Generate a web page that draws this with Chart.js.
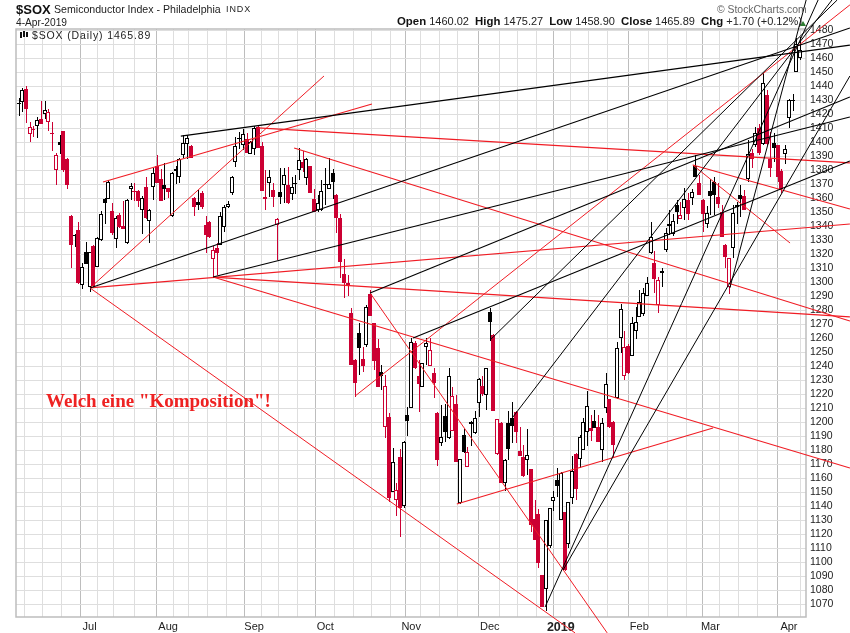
<!DOCTYPE html>
<html>
<head>
<meta charset="utf-8">
<title>$SOX</title>
<script src="https://cdn.jsdelivr.net/npm/chart.js@4/dist/chart.umd.min.js"></script>
<style>
  html, body { margin: 0; background: #fff; }
  #wrap { position: relative; width: 850px; height: 633px; overflow: hidden; font-family: "Liberation Sans", sans-serif; color: #222; }
  #wrap div { position: absolute; white-space: nowrap; line-height: 1; }
  canvas { position: absolute; left: 0; top: 0; }
  b { color: #111; }
</style>
</head>
<body>
<div id="wrap">
  <canvas id="sox" width="850" height="633"></canvas>
  <div style="left:16px;top:3px;font-size:13px;font-weight:bold;color:#111">$SOX</div>
  <div style="left:54px;top:4px;font-size:10.6px">Semiconductor Index - Philadelphia</div>
  <div style="left:226px;top:5px;font-size:9px;letter-spacing:.9px">INDX</div>
  <div style="left:16px;top:18px;font-size:10.2px">4-Apr-2019</div>
  <div style="left:397px;top:16px;font-size:11px"><b style="font-size:11.4px">Open</b> 1460.02&nbsp; <b style="font-size:11.4px">High</b> 1475.27&nbsp; <b style="font-size:11.4px">Low</b> 1458.90&nbsp; <b style="font-size:11.4px">Close</b> 1465.89&nbsp; <b style="font-size:11.4px">Chg</b> +1.70 (+0.12%)</div>
  <div style="left:800px;top:21px;width:0;height:0;border-left:3px solid transparent;border-right:3px solid transparent;border-bottom:5px solid #2e7d32"></div>
  <div style="left:717px;top:5px;font-size:10.4px;color:#666">&copy; StockCharts.com</div>
  <div style="left:20px;top:32px;width:2px;height:6px;background:#111"></div>
  <div style="left:23px;top:31px;width:2px;height:6px;background:#111"></div>
  <div style="left:26px;top:32px;width:2px;height:5px;background:#111"></div>
  <div style="left:32px;top:30px;font-size:10.5px;letter-spacing:.85px">$SOX (Daily) 1465.89</div>
  <div style="left:46px;top:391px;font-family:'Liberation Serif',serif;font-weight:bold;font-size:19px;color:#ee2222">Welch eine "Komposition"!</div>
</div>
<script>
// daily candles, 5 Jun 2018 - 4 Apr 2019
const opens = [
  1428,1429,1438,1406.4,1409.5,1412,1416.8,1420,1414.5,1407,
  1380.7,1400,1408,1388.3,1347.7,1334,1337.5,1298,1321.5,1297,
  1326,1311.3,1330,1359.7,1359.5,1351,1330.8,1348,1340.3,1328,
  1367,1365.5,1365,1351.8,1368,1344,1368,1383.5,1374,1369.5,
  1367.3,1347.7,1379.5,1375.7,1391,1398.7,1397.6,1360,1357.8,1364,
  1341,1343.4,1316.5,1324.4,1326.8,1339.9,1354,1363.8,1385.9,1403.5,
  1398.3,1402.3,1391.6,1395.2,1410.9,1397.6,1360.9,1370.9,1366,1341,
  1364.9,1369.5,1369.7,1363,1371,1380.4,1386.3,1374.4,1383,1359.6,
  1351.8,1351.8,1369.6,1366.8,1378,1362.5,1345.8,1306,1299.4,1278,
  1244.7,1263.7,1245,1255,1291.8,1270.9,1253,1235.9,1197,1203.7,
  1150,1144.7,1175,1140,1205.4,1210.2,1256.6,1233.5,1225.6,1254.2,
  1240.4,1235.2,1207,1185.7,1204.7,1188.8,1194.2,1213,1142.5,1191.1,
  1168,1198.7,1192.3,1213.7,1226,1219.7,1278.7,1262.5,1177.3,1199.5,
  1156.8,1199.5,1203,1207.8,1179.4,1175,1173,1166.8,1131,1134.9,
  1090.8,1081.3,1111.5,1143.7,1159,1130.6,1135.8,1113.4,1146,1177.5,
  1174,1180.4,1193.5,1195.9,1201.4,1196.5,1180,1210,1216.6,1200,
  1217.3,1260,1233.5,1254.9,1247.8,1265.6,1275.1,1277.3,1290.6,1320.9,
  1313.7,1284,1306.8,1323.3,1341.8,1334.3,1355.4,1345.2,1353,1359,
  1360.6,1383.2,1371.3,1359,1341.8,1365.6,1372,1361.3,1350.6,1327,
  1296.5,1324.7,1355,1362.5,1361.8,1373.7,1392.8,1398.3,1410,1399,
  1434,1388.3,1399.5,1398.3,1379.7,1391.6,1417.3,1430,1450.6,1460.02
];
const highs = [
  1431.6,1438.7,1440.4,1414.5,1412,1418,1429.7,1429.7,1424,1414.5,
  1392.8,1405.4,1408.5,1388.8,1348,1334.5,1343,1313.7,1328.7,1321.5,
  1326.5,1332.5,1351.3,1360,1373,1357,1347.5,1349.4,1358,1359.5,
  1371,1371.4,1366,1362,1375.7,1352.3,1381.6,1391,1381,1385,
  1367.5,1379,1383,1389,1405,1405.4,1398,1361,1366,1365,
  1347.5,1344,1326.3,1328.4,1350.6,1355,1358,1376,1404,1407.8,
  1409.7,1406.6,1401,1411.5,1411.5,1400.6,1380.4,1380.4,1371,1345.8,
  1381.6,1382,1382.8,1375,1376.8,1395.9,1394,1389,1383.5,1367,
  1362.5,1373,1381.5,1388.7,1381,1363,1349,1316.6,1305,1281.6,
  1245,1270.9,1254,1284,1294.7,1271,1259.4,1241,1234,1206.6,
  1181.5,1157,1180.8,1187,1211.4,1260,1258,1244.7,1242.5,1260,
  1260,1238.7,1207.5,1212.6,1213,1238.7,1225,1219.7,1174,1195.2,
  1182.8,1200.8,1208,1231.5,1233.3,1239,1281.6,1263,1202.5,1200,
  1174,1208.5,1214.9,1208,1197,1184,1195.6,1167,1144.8,1138,
  1091,1130.5,1139,1150.8,1167.5,1164.5,1136,1143,1175.8,1178,
  1191,1203,1222.5,1205.4,1209,1205,1203,1235,1217,1201,
  1257.7,1284.6,1265,1256,1275.6,1282.7,1294.6,1295.8,1304,1343.5,
  1322.5,1304,1310.6,1338.7,1351.8,1349,1359,1357.8,1367.8,1363.7,
  1366.6,1391,1376.8,1359.5,1354.7,1373.7,1375.6,1370.9,1355.4,1327.5,
  1317.8,1355.4,1357.4,1369.7,1366,1401.8,1395,1411.4,1413,1449.9,
  1437.6,1407.8,1406.6,1398.5,1381,1398,1431,1434.4,1474.4,1475.27
];
const lows = [
  1419,1422,1414,1400,1404,1403.5,1413,1417,1408.5,1394,
  1369.7,1391.8,1379,1367,1310.6,1325.6,1299,1295,1313,1293,
  1297,1311,1329.5,1341.5,1359.3,1334,1324.4,1339,1338,1327.5,
  1359,1358,1354,1334.4,1345,1328,1359,1371,1358,1359,
  1360,1347,1370,1370.9,1388.7,1388,1388.7,1347.7,1352,1352.5,
  1320.8,1332,1304,1305.4,1326.5,1336.3,1353.5,1362.5,1382.8,1395.4,
  1394.7,1392.8,1391.5,1391,1396,1365.7,1352,1361.4,1354,1316,
  1356,1356.6,1356,1359,1363,1373,1379,1369.6,1363.7,1350.6,
  1350.5,1351,1355.4,1366.5,1359.4,1335,1303,1289,1290.6,1241,
  1218.5,1234,1236.3,1254,1276,1237.5,1225,1223.3,1188.8,1143.5,
  1150,1133,1118.5,1139,1190.7,1210,1238,1207.8,1225.4,1241,
  1240,1217.3,1169.2,1183.5,1185.9,1188.5,1194,1171.5,1142,1178.5,
  1168,1183.5,1192,1204,1219,1209,1258.2,1208,1177,1156.5,
  1150.8,1173.3,1185,1185,1176,1161.4,1162.7,1121.5,1116,1096,
  1068,1065.4,1110,1137,1146.8,1130.5,1093.7,1110,1141.8,1144.9,
  1167.5,1180,1183.5,1187,1196,1186,1172,1206.6,1196,1174.5,
  1217,1249.4,1230,1234.4,1247.5,1259.4,1275,1275.8,1290,1320.5,
  1292.3,1278.5,1296.5,1322,1334,1333.2,1342,1345,1344.7,1344.7,
  1355.4,1375,1362.5,1336.4,1338.7,1348,1348,1353,1332.8,1310,
  1291.8,1317.2,1342,1347,1351.8,1372,1381.6,1397,1391,1398,
  1398,1375,1386.4,1372,1364,1384.7,1410,1422.5,1450,1458.9
];
const closes = [
  1427.5,1437.5,1423.7,1411.4,1409,1416,1413.3,1423,1421.6,1406,
  1391,1398,1380,1369.7,1326.8,1333,1299.4,1311,1313.3,1321.5,
  1297.3,1332,1348.7,1357,1371.6,1335,1345.8,1339.4,1338,1359,
  1369,1365,1358.3,1360.7,1345.8,1352,1378.3,1371.4,1358,1367,
  1364.5,1378.3,1380.9,1388.5,1399.5,1403.3,1388.9,1354.2,1355.4,1353.8,
  1334,1332.2,1323.2,1321.3,1347.7,1353.7,1356,1375.4,1397.6,1403,
  1405.9,1392.8,1400.6,1410,1396,1365.7,1359.7,1375.2,1361.4,1345,
  1361.4,1376.8,1357,1368,1370.5,1387.3,1382,1388,1363.7,1350.6,
  1357,1365.6,1370.5,1370,1371.5,1346.3,1314.9,1299.4,1297.8,1241,
  1228.5,1253,1240.6,1282.3,1276,1244.2,1225,1233.5,1226.4,1145.8,
  1172,1152,1139,1186.3,1201.1,1257.3,1238.7,1227.5,1242.3,1256.6,
  1251.8,1228.5,1173.3,1189.5,1193.5,1233.5,1219.2,1172,1173.8,1178.8,
  1178.8,1200.6,1203,1230.9,1220.2,1238.7,1272,1208.3,1202.3,1156.8,
  1173.4,1180.9,1197.8,1193.5,1176.3,1161.5,1176.5,1127,1116.3,1099.6,
  1068.2,1130,1138.7,1146.5,1154.4,1163.9,1094.9,1143,1165,1152.5,
  1189.6,1200.6,1212,1194,1196.4,1186.3,1199.9,1227.3,1197,1184,
  1253,1280.8,1253.7,1235.6,1270.8,1271.6,1286.3,1292.7,1299.4,1332.8,
  1302.5,1301.8,1308,1335.6,1340,1344,1350.6,1348,1359.4,1349,
  1364.9,1375,1362.5,1349,1349.9,1362,1362.5,1356,1332.8,1318.5,
  1317.2,1349.4,1353.7,1359.7,1351.8,1391.6,1388,1406.6,1392.4,1442.3,
  1399,1381.6,1396.4,1375.7,1366.6,1395.2,1430.4,1430.5,1470,1465.89
];
const candleColors = (
  'kkrrrkrkrr' + 'rkrrrkrkkk' + 'rkkkkrkrrk' + 'krrkrkkrrk' + 'rkkkkkrrkr' +
  'rrrrkkkkkk' + 'krkkrrrkrr' + 'kkrkkkrkrr' + 'kkkkkrrrrr' + 'rkrkrrrkrr' +
  'krrkkkrrkk' + 'rrrkkkrrkk' + 'rkkkrkkrrr' + 'kkkrrrkrrr' + 'rkkkkkrkkr' +
  'kkkrkrkkrr' + 'kkrrkkkkkk' + 'rrkkkkkrkr' + 'kkrrkkkrrr' + 'rkkkrkrkrk' +
  'rrkrrkkkkk').split('');

// trend lines as [day, price, day, price]
const redThick = [
  [19.12,1296.1,222.3,1341.8], [52,1303.9,222.3,1275.4], [52,1303.9,222.3,1167.5],
  [64,1410.4,222.3,1385.4], [22.6,1371.8,94.5,1427.5], [73.7,1396.1,222.3,1272.5],
  [117.2,1141.8,185.7,1196.1], [180.3,1383.9,222.3,1352.5]
];
const redThin = [
  [19.12,1296.1,81.68,1447.5], [19.12,1296.1,148.8,1049.7], [94,1292.5,157.4,1049.7],
  [90,1218.9,222.3,1498.3], [180.3,1383.9,206.3,1328.2]
];
const blackThick = [
  [43.4,1404.6,222.3,1469.6], [19.12,1296.1,222.3,1481.8], [52,1303.9,222.3,1418.2],
  [94,1292.5,222.3,1432.5], [105.5,1260.4,222.3,1386.8]
];
const blackThin = [
  [126.1,1258.9,218.9,1501.8], [140.8,1068.2,213.8,1501.8], [145.6,1094.6,222.3,1447.5],
  [132,1203.2,217.5,1501.8], [190.2,1296.1,210.6,1501.8]
];

const priceTicks = [
  1070,1080,1090,1100,1110,1120,1130,1140,1150,1160,1170,1180,1190,1200,
  1210,1220,1230,1240,1250,1260,1270,1280,1290,1300,1310,1320,1330,1340,
  1350,1360,1370,1380,1390,1400,1410,1420,1430,1440,1450,1460,1470,1480
];
const monthDays = [19, 40, 63, 82, 105, 126, 145, 166, 185, 206];
const monthLabels = ['Jul', 'Aug', 'Sep', 'Oct', 'Nov', 'Dec', '2019', 'Feb', 'Mar', 'Apr'];
const weekDays = [4, 9, 14, 23, 28, 34, 43, 48, 53, 58, 67, 72, 77, 87, 92, 97, 102,
  110, 115, 120, 131, 136, 141, 150, 155, 160, 171, 176, 181, 190, 195, 200];

const RED = '#cc0033';
const LINE_RED = '#f01c24';

const days = opens.map((_, i) => i);
const inkOf = i => candleColors[i] === 'r' ? RED : '#000';

function lineDatasets(lines, color, width) {
  return lines.map(l => ({
    type: 'line',
    data: [{ x: l[0], y: l[1] }, { x: l[2], y: l[3] }],
    borderColor: color,
    borderWidth: width,
    pointRadius: 0,
    clip: false,
    order: 0
  }));
}

// left and top edge of the plot frame
const frame = {
  id: 'frame',
  beforeDatasetsDraw(chart) {
    const { ctx, chartArea: a } = chart;
    ctx.save();
    ctx.strokeStyle = '#bdbdbd';
    ctx.lineWidth = 1.5;
    ctx.strokeRect(a.left, a.top, a.right - a.left, a.bottom - a.top);
    ctx.restore();
  }
};

// snap bars to whole pixels so candles stay crisp
const snapBars = {
  id: 'snapBars',
  afterDatasetsUpdate(chart) {
    [0, 1].forEach(d => {
      chart.getDatasetMeta(d).data.forEach(el => {
        const top = Math.round(el.y);
        const bottom = Math.max(Math.round(el.base), top + 1);
        el.x = Math.round(el.x) + (d === 0 ? 0.5 : 0);
        el.y = top;
        el.base = bottom;
        el.height = bottom - top;
      });
    });
  }
};

new Chart(document.getElementById('sox'), {
  type: 'bar',
  data: {
    datasets: [
      {
        // wicks
        data: days.map(i => ({ x: i, y: [lows[i], highs[i]] })),
        backgroundColor: days.map(inkOf),
        maxBarThickness: 1,
        grouped: false,
        order: 2
      },
      {
        // bodies, hollow when the close is above the open
        data: days.map(i => ({ x: i, y: [opens[i], closes[i]] })),
        backgroundColor: days.map(i => closes[i] > opens[i] ? '#fff' : inkOf(i)),
        borderColor: days.map(inkOf),
        borderWidth: 1,
        borderSkipped: false,
        barPercentage: 1.2,
        categoryPercentage: 1,
        maxBarThickness: 4,
        grouped: false,
        order: 1
      },
      ...lineDatasets(blackThick, '#000', 1.2),
      ...lineDatasets(blackThin, '#000', 1),
      ...lineDatasets(redThick, LINE_RED, 1.2),
      ...lineDatasets(redThin, LINE_RED, 1)
    ]
  },
  plugins: [frame, snapBars],
  options: {
    responsive: false,
    devicePixelRatio: 1,
    animation: false,
    layout: { padding: { left: 16, top: 29, right: 0, bottom: 0 } },
    plugins: { legend: { display: false }, tooltip: { enabled: false } },
    scales: {
      x: {
        type: 'linear',
        offset: false,
        min: -0.67,
        max: 210.56,
        afterBuildTicks: s => { s.ticks = [...weekDays, ...monthDays].sort((a, b) => a - b).map(value => ({ value })); },
        afterFit: s => { s.height = 16; },
        border: { display: false },
        grid: {
          drawTicks: false,
          color: c => monthDays.includes(c.tick && c.tick.value) ? '#bdbdbd' : '#dedede',
          lineWidth: 1
        },
        ticks: {
          autoSkip: false,
          maxRotation: 0,
          padding: 3,
          color: '#222',
          font: c => ({
            family: 'Liberation Sans',
            size: c.tick && c.tick.value === 145 ? 12.5 : 11,
            weight: c.tick && c.tick.value === 145 ? 'bold' : 'normal'
          }),
          callback: v => {
            const m = monthDays.indexOf(v);
            return m < 0 ? '' : monthLabels[m];
          }
        }
      },
      y: {
        type: 'linear',
        position: 'right',
        min: 1061.07,
        max: 1481.07,
        afterBuildTicks: s => { s.ticks = priceTicks.map(value => ({ value })); },
        afterFit: s => { s.width = 44; },
        border: { display: false },
        grid: { drawTicks: false, color: '#dedede', lineWidth: 1 },
        ticks: {
          autoSkip: false,
          padding: 4,
          color: '#222',
          font: { family: 'Liberation Sans', size: 10.5 },
          callback: v => String(v)
        }
      }
    }
  }
});
</script>
</body>
</html>
